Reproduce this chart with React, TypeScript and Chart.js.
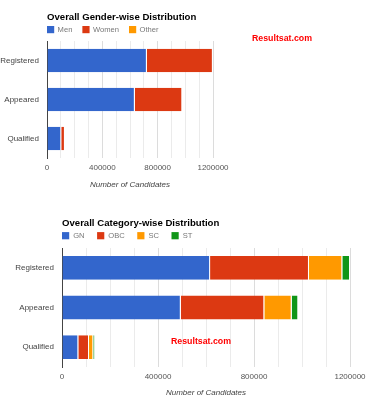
import React, { useEffect, useRef } from 'react';
import { Chart, registerables } from 'chart.js';

Chart.register(...registerables);

const FONT = '"Liberation Sans", Arial, Helvetica, sans-serif';

// ---- data ----
const categories = ['Registered', 'Appeared', 'Qualified'];

const genderTitle = 'Overall Gender-wise Distribution';
const genderLabels = ['Men', 'Women', 'Other'];
const genderMen = [722000, 635000, 103000];
const genderWomen = [477000, 343000, 26500];
const genderOther = [0, 0, 0];

const categoryTitle = 'Overall Category-wise Distribution';
const categoryLabels = ['GN', 'OBC', 'SC', 'ST'];
const catGN = [617000, 495000, 68000];
const catOBC = [412000, 348000, 44500];
const catSC = [139000, 114000, 18000];
const catST = [32000, 27500, 7000];

const axisMax = 1200000;
const gridStep = 100000;
const labelStep = 400000;
const axisTitle = 'Number of Candidates';
const watermark = 'Resultsat.com';

const COLORS = ['#3366cc', '#dc3912', '#ff9900', '#109618'];

const decorPlugin = {
  id: 'decor',
  afterDraw(chart: any, _args: any, opts: any) {
    const ctx = chart.ctx;
    const left = chart.chartArea.left;
    ctx.save();
    // title
    ctx.font = `bold 9.6px ${FONT}`;
    ctx.fillStyle = '#000';
    ctx.textAlign = 'left';
    ctx.textBaseline = 'alphabetic';
    ctx.fillText(opts.title, left, opts.titleY);
    // legend
    let x = left;
    const box = 7.2;
    ctx.font = `7.6px ${FONT}`;
    ctx.textBaseline = 'middle';
    chart.data.datasets.forEach((ds: any) => {
      ctx.fillStyle = ds.backgroundColor;
      ctx.fillRect(x, opts.legendY - box / 2, box, box);
      const tx = x + box + opts.textGap;
      ctx.fillStyle = '#777';
      ctx.fillText(ds.label, tx, opts.legendY);
      x = tx + ctx.measureText(ds.label).width + opts.itemGap;
    });
    // watermark
    ctx.font = `bold 8.8px ${FONT}`;
    ctx.fillStyle = '#ff0000';
    ctx.textAlign = 'center';
    ctx.textBaseline = 'middle';
    ctx.fillText(watermark, opts.wmX, opts.wmY);
    ctx.restore();
  },
};

type Props = {
  top: number;
  height: number;
  labels: string[];
  series: number[][];
  title: string;
  padTop: number;
  padRight: number;
  yWidth: number;
  xHeight: number;
  titlePadBottom: number;
  decor: any;
};

function StackedBar(p: Props) {
  const ref = useRef<HTMLCanvasElement | null>(null);
  useEffect(() => {
    if (!ref.current) return;
    const chart = new Chart(ref.current, {
      type: 'bar',
      data: {
        labels: categories,
        datasets: p.series.map((s, i) => ({
          label: p.labels[i],
          data: s,
          backgroundColor: COLORS[i],
          borderColor: '#ffffff',
          borderWidth: { top: 0, right: 1, bottom: 0, left: 0 },
          borderSkipped: false,
          barPercentage: 0.6,
          categoryPercentage: 1,
        })),
      },
      options: {
        indexAxis: 'y',
        responsive: false,
        animation: false,
        devicePixelRatio: 1,
        layout: { padding: { top: p.padTop, right: p.padRight, left: 0, bottom: 0 } },
        plugins: {
          legend: { display: false },
          tooltip: { enabled: false },
          decor: { title: p.title, ...p.decor },
        } as any,
        scales: {
          x: {
            stacked: true,
            min: 0,
            max: axisMax,
            afterFit: (s: any) => {
              s.height = p.xHeight;
            },
            grid: {
              drawTicks: false,
              color: (c: any) => (c.tick && c.tick.value % labelStep === 0 ? '#dcdcdc' : '#ebebeb'),
            },
            border: { display: false },
            ticks: {
              stepSize: gridStep,
              autoSkip: false,
              maxRotation: 0,
              padding: 5,
              color: '#555',
              font: { size: 8, family: FONT },
              callback: (v: any) => (Number(v) % labelStep === 0 ? String(v) : ''),
            },
            title: {
              display: true,
              text: axisTitle,
              color: '#444',
              font: { size: 8, family: FONT, style: 'italic' },
              padding: { top: 0, bottom: p.titlePadBottom },
            },
          },
          y: {
            stacked: true,
            afterFit: (s: any) => {
              s.width = p.yWidth;
            },
            grid: { display: false, drawTicks: false },
            border: { display: true, color: '#444', width: 1 },
            ticks: {
              padding: 8,
              color: '#444',
              font: { size: 8, family: FONT },
            },
          },
        },
      } as any,
      plugins: [decorPlugin as any],
    });
    return () => chart.destroy();
  }, []);
  return (
    <canvas
      ref={ref}
      width={378}
      height={p.height}
      style={{ position: 'absolute', left: 0, top: p.top, width: 378, height: p.height }}
    />
  );
}

export default function App() {
  return (
    <div style={{ position: 'absolute', left: 0, top: 0, width: 378, height: 400, background: '#fff' }}>
      <StackedBar
        top={0}
        height={200}
        labels={genderLabels}
        series={[genderMen, genderWomen, genderOther]}
        title={genderTitle}
        padTop={41}
        padRight={165}
        yWidth={47}
        xHeight={42}
        titlePadBottom={10}
        decor={{ titleY: 20, legendY: 29.6, textGap: 3.4, itemGap: 10, wmX: 282, wmY: 39 }}
      />
      <StackedBar
        top={200}
        height={200}
        labels={categoryLabels}
        series={[catGN, catOBC, catSC, catST]}
        title={categoryTitle}
        padTop={48}
        padRight={28}
        yWidth={62}
        xHeight={33}
        titlePadBottom={2.5}
        decor={{ titleY: 26.3, legendY: 35.7, textGap: 4, itemGap: 12.5, wmX: 201, wmY: 142 }}
      />
    </div>
  );
}
